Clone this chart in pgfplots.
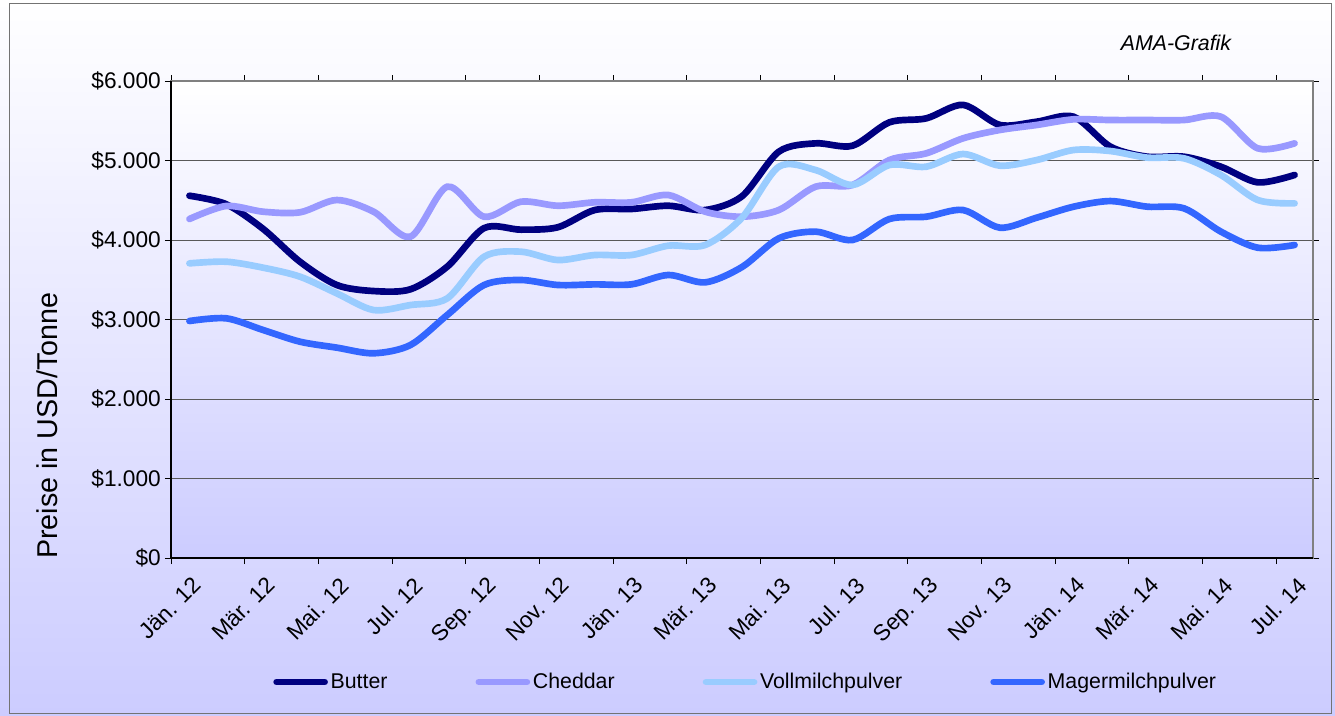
\documentclass[border=0pt]{standalone}
\usepackage{pgfplots}
\pgfplotsset{compat=1.18}
\usepackage{fontspec}
\setmainfont{Liberation Sans}
\definecolor{butter}{RGB}{0,0,128}
\definecolor{cheddar}{RGB}{153,153,255}
\definecolor{vmp}{RGB}{153,204,255}
\definecolor{mmp}{RGB}{51,102,255}
\definecolor{lav}{RGB}{204,204,255}
\begin{document}
\begin{tikzpicture}
\path[use as bounding box] (0pt,0pt) rectangle (1001.25pt,536.25pt);
\shade[top color=white, bottom color=lav] (0pt,0pt) rectangle (1001.25pt,536.25pt);
\draw[black!55, line width=0.6pt] (6.75pt,1.5pt) rectangle (998.5pt,533.5pt);
\begin{axis}[
  at={(128.25pt,117.75pt)}, anchor=south west,
  scale only axis, width=856.5pt, height=357.75pt,
  xmin=-0.5, xmax=30.5, ymin=0, ymax=6000,
  clip=false,
  axis background/.style={shade, top color=white, bottom color=lav},
  axis line style={draw=gray, line width=1.6pt},
  xtick={0,2,...,30},
  xticklabels={Jän. 12, Mär. 12, Mai. 12, Jul. 12, Sep. 12, Nov. 12, Jän. 13, Mär. 13, Mai. 13, Jul. 13, Sep. 13, Nov. 13, Jän. 14, Mär. 14, Mai. 14, Jul. 14},
  major x tick style={draw=none},
  minor xtick={-0.5,1.5,...,29.5},
  minor x tick style={black, line width=0.6pt},
  minor tick length=4.5pt,
  ytick={0,1000,...,6000},
  yticklabels={\$0,\$1.000,\$2.000,\$3.000,\$4.000,\$5.000,\$6.000},
  major y tick style={black, line width=0.6pt},
  major tick length=4.5pt,
  tick align=outside,
  ymajorgrids,
  grid style={black!65, line width=0.7pt},
  tick label style={font=\fontsize{17}{20}\selectfont},
  x tick label style={rotate=45, anchor=north east, inner sep=2pt, yshift=-5pt, xshift=-3pt},
  yticklabel style={inner sep=3pt},
  ylabel={Preise in USD/Tonne},
  ylabel style={at={(axis description cs:-0.1086,0.277)}, anchor=center, font=\fontsize{21.5}{24}\selectfont},
  legend columns=4,
  legend style={draw=none, fill=none, at={(0.5035,-0.26)}, anchor=center,
    font=\fontsize{16}{19}\selectfont,
    /tikz/every even column/.append style={column sep=64pt}},
  legend image code/.code={\draw[#1, line cap=round] (0pt,0pt) -- (36pt,0pt);},
  every axis plot/.append style={line width=5pt, smooth, tension=0.5, line cap=round},
]
\addplot[butter] coordinates {
(0,4557)(1,4450)(2,4140)(3,3727)(4,3434)(5,3358)(6,3380)(7,3665)(8,4150)(9,4130)
(10,4160)(11,4377)(12,4390)(13,4431)(14,4377)(15,4550)(16,5111)(17,5216)(18,5186)(19,5480)
(20,5530)(21,5700)(22,5447)(23,5488)(24,5551)(25,5174)(26,5048)(27,5048)(28,4922)(29,4725)(30,4818)};
\addlegendentry{Butter}
\addplot[cheddar] coordinates {
(0,4264)(1,4428)(2,4356)(3,4348)(4,4503)(5,4356)(6,4042)(7,4671)(8,4293)(9,4482)
(10,4431)(11,4474)(12,4474)(13,4566)(14,4356)(15,4293)(16,4377)(17,4671)(18,4692)(19,5006)
(20,5090)(21,5279)(22,5384)(23,5447)(24,5518)(25,5509)(26,5509)(27,5509)(28,5551)(29,5153)(30,5216)};
\addlegendentry{Cheddar}
\addplot[vmp] coordinates {
(0,3706)(1,3727)(2,3652)(3,3539)(4,3329)(5,3119)(6,3182)(7,3266)(8,3790)(9,3853)
(10,3748)(11,3811)(12,3811)(13,3929)(14,3937)(15,4280)(16,4922)(17,4880)(18,4692)(19,4943)
(20,4922)(21,5082)(22,4935)(23,5006)(24,5132)(25,5119)(26,5036)(27,5027)(28,4818)(29,4503)(30,4461)};
\addlegendentry{Vollmilchpulver}
\addplot[mmp] coordinates {
(0,2981)(1,3015)(2,2868)(3,2721)(4,2646)(5,2575)(6,2679)(7,3057)(8,3434)(9,3497)
(10,3434)(11,3442)(12,3442)(13,3560)(14,3467)(15,3660)(16,4021)(17,4105)(18,4000)(19,4264)
(20,4293)(21,4377)(22,4155)(23,4281)(24,4419)(25,4490)(26,4419)(27,4398)(28,4105)(29,3903)(30,3937)};
\addlegendentry{Magermilchpulver}
\draw[black, line width=1.6pt] (rel axis cs:0,1) -- (rel axis cs:0,0) -- (rel axis cs:1,0);
\end{axis}
\node[font=\itshape\fontsize{16}{19}\selectfont] at (882pt,504pt) {AMA-Grafik};
\end{tikzpicture}
\end{document}
